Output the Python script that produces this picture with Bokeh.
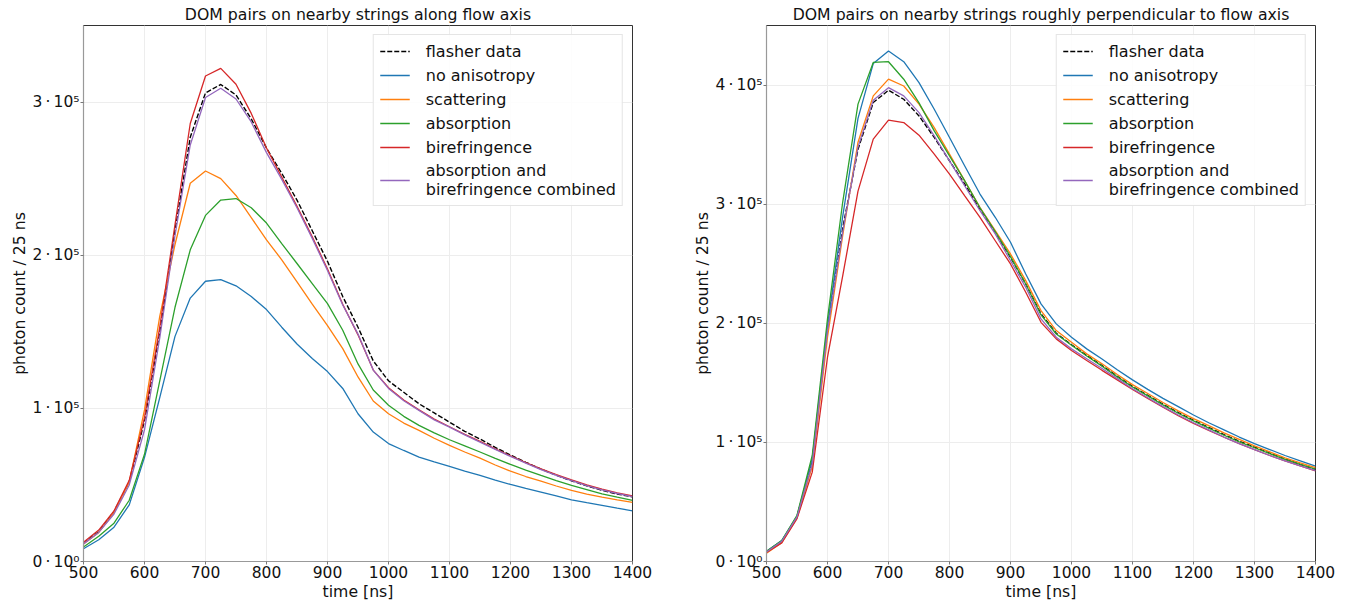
from bokeh.plotting import figure
from bokeh.layouts import row
from bokeh.models import FixedTicker, Legend, LegendItem, Range1d
from bokeh.embed import file_html
from bokeh.resources import INLINE

# time bins [ns]
time_ns = [500, 525, 550, 575, 600, 625, 650, 675, 700, 725, 750, 775, 800, 825, 850,
           875, 900, 925, 950, 975, 1000, 1025, 1050, 1075, 1100, 1125, 1150, 1175,
           1200, 1225, 1250, 1275, 1300, 1325, 1350, 1375, 1400]

# ---- left panel: along flow axis (photon counts in thousands) ----
L_flasher = [12, 19.5, 32.5, 52, 92, 150, 216, 277, 306, 311.5, 304.6, 289, 270, 253.5, 236,
             216, 196, 173, 153, 131, 118, 110.5, 103, 97, 91, 85, 80, 74.5,
             69.5, 64.8, 60.3, 56.3, 52.7, 49.4, 46.5, 44, 42.2]
L_noaniso = [8.3, 14.2, 22.4, 37, 68, 107, 147, 172, 183, 184, 180, 173, 164.5, 153, 142,
             132.5, 124, 113, 96.5, 84.5, 77, 72.5, 68.2, 65, 62.1, 59, 56.2, 53.2,
             50.3, 47.7, 45.3, 42.8, 40.3, 38.4, 36.6, 34.8, 33.1]
L_scatter = [11.5, 19, 32, 52, 99, 160, 207, 247, 255, 250, 239, 224.6, 210, 197, 182.6,
             168, 154, 139, 120.5, 104.8, 96.5, 90.4, 85.6, 80.5, 75.8, 71.5, 67.5, 63,
             59, 55.5, 52.5, 49.3, 46.4, 44, 42, 40.2, 38.6]
L_absorb = [9.5, 16.5, 25, 40, 70, 118, 166, 203.5, 226, 236, 237, 231, 221, 207.6, 194.6,
            181.5, 168.4, 151, 129, 112, 102, 94.8, 88.9, 84, 79.5, 75.5, 71.5, 67.3,
            63.4, 59.7, 56.2, 52.8, 49.7, 47, 44.2, 42, 39.9]
L_biref = [12.5, 20.5, 33, 53, 94, 153, 220, 286, 317, 322, 311.6, 292.6, 270, 251, 232,
           212, 191, 168, 148, 125, 113.5, 105.5, 99, 93, 88, 83, 78.5, 73.5,
           69, 64.6, 60.5, 56.8, 53.3, 50, 47.2, 44.8, 42.8]
L_combined = [11.5, 19, 31, 50, 86, 146, 213, 272, 303, 309, 302, 287, 267, 249.5, 231,
              211, 190, 167.5, 148.5, 125, 113, 105, 98.7, 92.5, 87.7, 82.7, 78, 73.2,
              68.6, 64.2, 60, 56.3, 52.8, 49.6, 46.8, 44.4, 42.3]

# ---- right panel: roughly perpendicular to flow axis (thousands) ----
R_flasher = [8, 17, 37.5, 85, 195.3, 280, 346, 385.3, 395.6, 388.1, 374.1, 356, 336.4, 316.8,
             295.9, 276.3, 255.3, 233, 207.9, 191.6, 182, 173, 164.5, 155.5, 147, 139.5,
             132, 125, 118.5, 112.5, 106.5, 101, 96, 91, 86, 81.5, 77.3]
R_noaniso = [8.5, 17.5, 38, 86, 198, 290, 372, 418, 428.6, 419.6, 402, 379.7, 356, 332,
             308.5, 289, 268, 241.4, 216.3, 199.5, 188.3, 178.5, 170, 161, 152.5, 144.5,
             137, 130, 123, 116.5, 110.5, 104.5, 99, 94, 89, 84.5, 80]
R_scatter = [7, 15.8, 36.5, 80, 188.3, 274, 352, 390.9, 405, 399.2, 384, 364.3, 342, 319.6,
             297.2, 277.7, 258.2, 235.8, 210.6, 193.9, 184.1, 174.3, 166, 157, 148.5, 141,
             133.5, 126.5, 120, 114, 108, 102.5, 97, 92, 87, 82.8, 78.8]
R_absorb = [8.5, 17.5, 38.8, 89, 203.7, 302, 384, 419, 419.6, 404.9, 385, 361.5, 340.6, 319.6,
            297, 277, 256, 233, 207, 191, 181.5, 172.5, 164, 155, 146.5, 139,
            131.5, 124.5, 118, 112, 106, 100.5, 95.5, 90.5, 85.7, 81.5, 77.6]
R_biref = [7.5, 15.6, 36, 75, 171.5, 240, 311, 354.6, 370.5, 368.5, 357.9, 342, 325.2, 307,
           288.9, 269.3, 249.8, 226, 200.8, 186.9, 177.1, 168.7, 160.5, 152.5, 144.5, 137,
           129.5, 122.5, 116, 110, 104.3, 99, 94, 89, 84.5, 80.2, 76]
R_combined = [8, 17, 37.5, 82, 193.9, 277, 348, 387.3, 397.8, 390.9, 376.9, 357.3, 336.4, 315.4,
              294.5, 275, 252.5, 230.2, 203.7, 188.3, 178.5, 170.2, 162, 153.5, 145, 137.5,
              130, 123, 116.5, 110.5, 104.5, 99, 94, 89, 84.5, 80.3, 76.3]

labels = ["flasher data", "no anisotropy", "scattering", "absorption", "birefringence",
          "absorption and\nbirefringence combined"]
colors = ["black", "#1f77b4", "#ff7f0e", "#2ca02c", "#d62728", "#9467bd"]

x_ticks = [500, 600, 700, 800, 900, 1000, 1100, 1200, 1300, 1400]
y_ticks_left = [0, 100000, 200000, 300000]
y_ticks_right = [0, 100000, 200000, 300000, 400000]
TS = "\u2009"
y_tick_text = {0: "0" + TS + "·" + TS + "10⁰", 100000: "1" + TS + "·" + TS + "10⁵",
               200000: "2" + TS + "·" + TS + "10⁵", 300000: "3" + TS + "·" + TS + "10⁵",
               400000: "4" + TS + "·" + TS + "10⁵"}

FONT = "DejaVu Sans"
H = 604


def make_panel(title, series, ymax, yticks, width, bl, br):
    p = figure(width=width, height=H, output_backend="svg", toolbar_location=None,
               x_range=Range1d(500, 1400), y_range=Range1d(0, ymax),
               min_border_left=bl, min_border_right=br, min_border_top=25,
               min_border_bottom=43)
    p.title.text = title
    p.title.align = "center"
    p.title.text_font = FONT
    p.title.text_font_size = "15.7px"
    p.title.text_font_style = "normal"
    p.title.text_color = "#111111"
    p.title.standoff = 4

    p.outline_line_color = "#333333"
    p.outline_line_width = 1
    p.background_fill_color = "white"
    p.border_fill_color = "white"

    for ax in (p.xaxis, p.yaxis):
        ax.axis_line_color = "#999999"
        ax.axis_line_width = 1.2
        ax.major_tick_line_color = "#777777"
        ax.major_tick_out = 3
        ax.major_tick_in = 0
        ax.minor_tick_line_color = None
        ax.major_label_text_font = FONT
        ax.major_label_text_font_size = "15.5px"
        ax.major_label_text_color = "#111111"
        ax.axis_label_text_font = FONT
        ax.axis_label_text_font_size = "15.7px"
        ax.axis_label_text_font_style = "normal"
        ax.axis_label_text_color = "#111111"
        ax.major_label_standoff = 1
        ax.axis_label_standoff = 1

    p.xaxis.ticker = FixedTicker(ticks=x_ticks)
    p.yaxis.ticker = FixedTicker(ticks=yticks)
    p.yaxis.major_label_overrides = {k: y_tick_text[k] for k in yticks}
    p.xaxis.axis_label = "time [ns]"
    p.yaxis.axis_label = "photon count / 25 ns"

    p.xgrid.ticker = FixedTicker(ticks=x_ticks)
    p.ygrid.ticker = FixedTicker(ticks=yticks)
    p.grid.grid_line_color = "#ededed"
    p.grid.grid_line_width = 1

    items = []
    for i, (vals, lab, col) in enumerate(zip(series, labels, colors)):
        yv = [v * 1000 for v in vals]  # thousands -> counts
        if i == 0:
            r = p.line(time_ns, yv, line_color=col, line_width=1.4, line_dash="5 2")
        else:
            r = p.line(time_ns, yv, line_color=col, line_width=1.3)
        items.append(LegendItem(label=lab, renderers=[r]))

    leg = Legend(items=items, location="top_right")
    leg.label_text_font = FONT
    leg.label_text_font_size = "16px"
    leg.label_text_color = "#111111"
    leg.glyph_width = 30
    leg.glyph_height = 20
    leg.label_height = 20
    leg.label_standoff = 16
    leg.spacing = 4
    leg.padding = 6
    leg.margin = 9
    leg.border_line_color = "#cccccc"
    leg.border_line_width = 1
    leg.background_fill_alpha = 0.85
    p.add_layout(leg)
    return p


left = make_panel("DOM pairs on nearby strings along flow axis",
                  [L_flasher, L_noaniso, L_scatter, L_absorb, L_biref, L_combined],
                  350000, y_ticks_left, 680, 83, 48)
right = make_panel("DOM pairs on nearby strings roughly perpendicular to flow axis",
                   [R_flasher, R_noaniso, R_scatter, R_absorb, R_biref, R_combined],
                   450000, y_ticks_right, 670, 86, 35)

layout = row(left, right)
open("out.html", "w").write(file_html(layout, INLINE))
